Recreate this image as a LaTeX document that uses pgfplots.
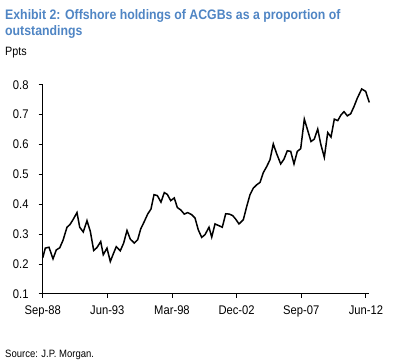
\documentclass[border=0pt]{standalone}
\usepackage{fontspec}
\setmainfont{Liberation Sans}
\usepackage{pgfplots}
\pgfplotsset{compat=1.18}
\definecolor{titleblue}{RGB}{79,133,196}
\newcommand{\vs}[1]{\scalebox{1}[1.12]{#1}}
\begin{document}
\begin{tikzpicture}
\useasboundingbox (0pt,0pt) rectangle (402pt,-363pt);
\node[anchor=base west, inner sep=0pt, font=\fontsize{12.3}{14}\selectfont\bfseries, text=titleblue] at (5pt,-19.6pt) {\vs{Exhibit 2: Offshore holdings of ACGBs as a proportion of}};
\node[anchor=base west, inner sep=0pt, font=\fontsize{12.3}{14}\selectfont\bfseries, text=titleblue] at (5pt,-35.3pt) {\vs{outstandings}};
\node[anchor=base west, inner sep=0pt, font=\fontsize{10.8}{12}\selectfont] at (5pt,-55.5pt) {\vs{Ppts}};
\node[anchor=base west, inner sep=0pt, font=\fontsize{9.5}{11}\selectfont] at (5pt,-358pt) {\vs{Source: J.P. Morgan.}};
\begin{axis}[
  at={(42.7pt,-293.8pt)}, anchor=south west,
  scale only axis, width=326.6pt, height=209pt,
  xmin=0, xmax=96, ymin=0.1, ymax=0.8,
  axis x line=bottom, axis y line=left,
  axis line style={-, line width=1.4pt, black},
  tick align=outside, major tick length=4pt,
  tick style={black, line width=0.8pt},
  xtick={0,19,38,57,76,95},
  xticklabels={\vs{Sep-88},\vs{Jun-93},\vs{Mar-98},\vs{Dec-02},\vs{Sep-07},\vs{Jun-12}},
  ytick={0.1,0.2,0.3,0.4,0.5,0.6,0.7,0.8},
  yticklabels={\vs{0.1},\vs{0.2},\vs{0.3},\vs{0.4},\vs{0.5},\vs{0.6},\vs{0.7},\vs{0.8}},
  ticklabel style={font=\fontsize{11.2}{13}\selectfont, inner sep=0pt},
  xticklabel style={anchor=base, yshift=-17pt},
  yticklabel style={anchor=east, xshift=-10pt},
  clip=false,
]
\addplot[black, line width=1.5pt] coordinates {
(0,0.220) (0.76,0.253) (1.85,0.256) (3.03,0.217) (4.0,0.247) (5.0,0.254)
(5.97,0.279) (7.14,0.323) (8.02,0.332) (8.9,0.348) (10.08,0.372) (10.88,0.323)
(11.93,0.307) (13.02,0.345) (14.0,0.309) (14.99,0.245) (15.96,0.255) (17.05,0.275)
(17.81,0.231) (18.9,0.253) (19.87,0.208) (20.8,0.235) (21.63,0.258) (22.8,0.244)
(23.8,0.270) (24.78,0.312) (25.75,0.283) (26.93,0.270) (27.92,0.281) (28.8,0.317)
(29.86,0.342) (30.86,0.367) (31.83,0.384) (32.72,0.432) (33.69,0.429) (34.77,0.407)
(35.74,0.439) (36.63,0.433) (37.63,0.412) (38.68,0.421) (39.57,0.389) (40.57,0.381)
(41.62,0.367) (42.62,0.372) (43.8,0.365) (44.77,0.354) (45.74,0.314) (46.74,0.289)
(47.71,0.298) (48.88,0.323) (49.68,0.290) (50.65,0.334) (51.82,0.328) (52.79,0.323)
(53.79,0.368) (54.85,0.367) (55.85,0.362) (56.73,0.350) (57.7,0.334) (58.97,0.348)
(59.96,0.392) (60.94,0.432) (61.91,0.454) (62.9,0.465) (63.87,0.473) (64.85,0.506)
(65.84,0.526) (66.81,0.549) (67.78,0.602) (68.78,0.569) (69.96,0.535) (70.93,0.551)
(71.9,0.579) (72.9,0.577) (73.87,0.535) (74.84,0.577) (75.84,0.586) (76.9,0.685)
(77.9,0.647) (78.87,0.610) (79.84,0.618) (80.84,0.652) (81.72,0.602) (82.78,0.557)
(83.78,0.640) (84.75,0.625) (85.72,0.685) (86.72,0.680) (87.68,0.699) (88.57,0.710)
(89.54,0.696) (90.54,0.703) (91.5,0.727) (92.47,0.755) (93.77,0.786) (94.94,0.778)
(96.0,0.741)
};
\end{axis}
\end{tikzpicture}
\end{document}
